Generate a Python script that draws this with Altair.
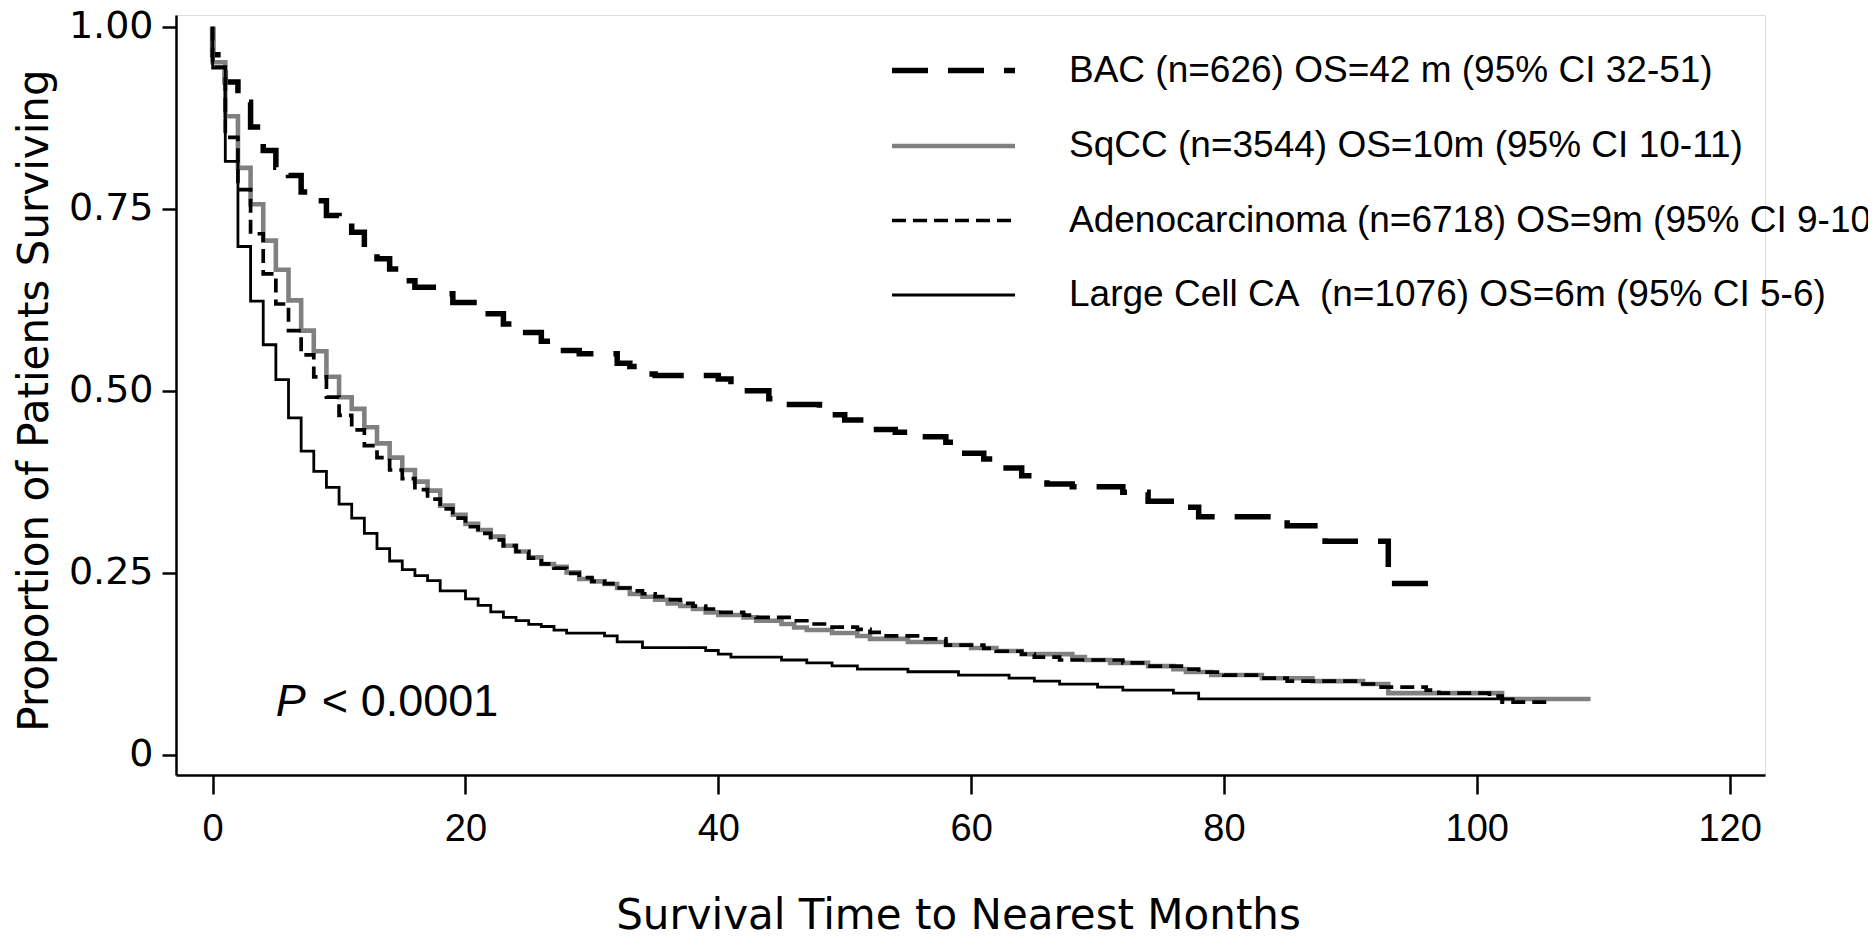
import altair as alt
import pandas as pd

# ---- data (time in months, survival proportion) ----
series_names = [
    "BAC (n=626) OS=42 m (95% CI 32-51)",
    "SqCC (n=3544) OS=10m (95% CI 10-11)",
    "Adenocarcinoma (n=6718) OS=9m (95% CI 9-10)",
    "Large Cell CA\u00a0 (n=1076) OS=6m (95% CI 5-6)",
]

bac_t = [0, 0, 1, 2, 3, 4, 5, 6, 7, 8, 9, 10, 11, 12, 13, 14, 15, 16, 18, 19, 21, 23, 24, 26, 27, 29,
         32, 33, 34, 35, 40, 41, 42, 44, 45, 48, 49, 50, 52, 54, 56, 58, 59, 61, 62, 64, 66, 68, 72,
         74, 77, 78, 85, 88, 93, 97]
bac_s = [1.0, 0.9615, 0.924, 0.896, 0.862, 0.83, 0.807, 0.7956, 0.7727, 0.761, 0.7406, 0.730, 0.7177,
         0.6925, 0.681, 0.667, 0.651, 0.642, 0.633, 0.621, 0.6055, 0.5917, 0.580, 0.5678, 0.555, 0.5505,
         0.5376, 0.533, 0.523, 0.5207, 0.516, 0.5046, 0.500, 0.4887, 0.4808, 0.474, 0.467, 0.4598,
         0.4465, 0.443, 0.4368, 0.429, 0.4139, 0.406, 0.3938, 0.383, 0.3718, 0.368, 0.3603, 0.348,
         0.3397, 0.3269, 0.3145, 0.293, 0.2352, 0.2352]

sqcc_t = [0, 0, 1, 2, 3, 4, 5, 6, 7, 8, 9, 10, 11, 12, 13, 14, 15, 16, 17, 18, 19, 20, 21, 22, 23, 24,
          25, 26, 27, 28, 29, 30, 31, 32, 33, 34, 35, 36, 37, 38, 39, 40, 42, 43, 45, 46, 47, 49, 51,
          52, 55, 58, 60, 62, 64, 68, 69, 71, 74, 76, 77, 79, 83, 87, 91, 93, 102, 109]
sqcc_s = [1.0, 0.951, 0.877, 0.806, 0.756, 0.706, 0.666, 0.624, 0.5825, 0.554, 0.519, 0.491, 0.475,
          0.4496, 0.4276, 0.408, 0.391, 0.375, 0.3626, 0.342, 0.3296, 0.317, 0.3086, 0.2994, 0.287,
          0.279, 0.271, 0.2618, 0.2581, 0.2503, 0.2412, 0.238, 0.2343, 0.2289, 0.2206, 0.2169, 0.2128,
          0.2077, 0.2041, 0.2, 0.1954, 0.1917, 0.1885, 0.1839, 0.1794, 0.1747, 0.1711, 0.167, 0.163,
          0.159, 0.1546, 0.1505, 0.1464, 0.1423, 0.138, 0.134, 0.13, 0.126, 0.1216, 0.1175, 0.1134,
          0.1093, 0.105, 0.101, 0.097, 0.0845, 0.0763, 0.0763]

adeno_t = [0, 0, 1, 2, 3, 4, 5, 6, 7, 8, 9, 10, 11, 12, 13, 14, 15, 16, 17, 18, 19, 20, 21, 22, 23,
           24, 25, 26, 27, 28, 29, 30, 31, 32, 33, 34, 35, 36, 37, 38, 39, 40, 42, 43, 46, 47, 49, 51,
           52, 53, 56, 58, 61, 62, 64, 65, 67, 72, 74, 77, 78, 80, 83, 85, 91, 92, 96, 97, 101, 102, 106]
adeno_s = [1.0, 0.9445, 0.848, 0.776, 0.7155, 0.6605, 0.619, 0.5825, 0.549, 0.519, 0.491, 0.466, 0.446,
           0.4245, 0.408, 0.391, 0.379, 0.364, 0.351, 0.3375, 0.325, 0.313, 0.304, 0.295, 0.287, 0.279,
           0.27, 0.262, 0.256, 0.249, 0.243, 0.238, 0.235, 0.2289, 0.225, 0.221, 0.2169, 0.2128, 0.2077,
           0.204, 0.2, 0.1954, 0.1917, 0.1885, 0.1839, 0.1794, 0.175, 0.172, 0.168, 0.163, 0.159, 0.1505,
           0.146, 0.142, 0.138, 0.134, 0.13, 0.126, 0.1216, 0.1175, 0.1134, 0.1093, 0.105, 0.101, 0.097,
           0.0928, 0.0887, 0.0845, 0.0804, 0.0722, 0.0722]

lc_t = [0, 0, 1, 2, 3, 4, 5, 6, 7, 8, 9, 10, 11, 12, 13, 14, 15, 16, 17, 18, 20, 21, 22, 23, 24, 25,
        26, 27, 28, 31, 32, 34, 39, 40, 41, 45, 47, 49, 51, 55, 59, 63, 65, 67, 70, 72, 76, 78, 103]
lc_s = [1.0, 0.943, 0.815, 0.698, 0.623, 0.563, 0.515, 0.4625, 0.417, 0.389, 0.367, 0.344, 0.325, 0.304,
        0.283, 0.266, 0.254, 0.246, 0.239, 0.225, 0.214, 0.205, 0.196, 0.1885, 0.184, 0.179, 0.176,
        0.171, 0.167, 0.163, 0.155, 0.147, 0.143, 0.138, 0.134, 0.13, 0.126, 0.122, 0.1175, 0.1138,
        0.1093, 0.1052, 0.101, 0.0969, 0.0928, 0.0887, 0.0845, 0.0767, 0.0767]

x_ticks = [0, 20, 40, 60, 80, 100, 120]
y_ticks = [0, 0.25, 0.5, 0.75, 1.0]

p_label = [{"t": 5, "s": 0.053, "p": "P", "rest": "< 0.0001"}]

# ---- build long table ----
rows = []
for name, ts, ss in zip(series_names, [bac_t, sqcc_t, adeno_t, lc_t], [bac_s, sqcc_s, adeno_s, lc_s]):
    for i, (t, s) in enumerate(zip(ts, ss)):
        rows.append({"series": name, "t": t, "s": s, "idx": i})
df = pd.DataFrame(rows)
ann = pd.DataFrame(p_label)

x_scale = alt.Scale(domain=[-2.9, 122.8], nice=False, zero=False)
y_scale = alt.Scale(domain=[-0.028, 1.016], nice=False, zero=False)

x_axis = alt.Axis(
    values=x_ticks, grid=False, title="Survival Time to Nearest Months",
    domainColor="black", domainWidth=2.5, tickColor="black", tickWidth=2.5, tickSize=19,
    labelFont="Liberation Sans", labelFontSize=38, labelColor="black", labelPadding=16,
    labelFlush=False, labelOverlap=False,
    titleFont="DejaVu Sans", titleFontSize=42, titleFontWeight="normal", titleColor="black",
    titleX=782, titleY=153, titleBaseline="alphabetic", titleAlign="center",
)
y_axis = alt.Axis(
    values=y_ticks, grid=False, title="Proportion of Patients Surviving",
    labelExpr="datum.value == 0 ? '0\u00a0\u2009' : format(datum.value, '.2f')",
    domainColor="black", domainWidth=2.5, tickColor="black", tickWidth=2.5, tickSize=14,
    labelFont="DejaVu Sans", labelFontSize=38, labelColor="black", labelPadding=9,
    labelFlush=False, labelOverlap=False,
    titleFont="DejaVu Sans", titleFontSize=42, titleFontWeight="normal", titleColor="black",
    titleAngle=270, titleX=-129, titleY=385, titleBaseline="alphabetic", titleAlign="center",
)

legend = alt.Legend(
    title=None, orient="none", legendX=716, legendY=32, padding=0,
    symbolType="M-3,0H3", symbolSize=1681, symbolOffset=38, labelOffset=92,
    labelFont="Liberation Sans", labelFontSize=37, labelColor="black", labelLimit=2000,
    rowPadding=34,
)

lines = alt.Chart(df).mark_line(interpolate="step-after", strokeCap="butt", strokeJoin="miter").encode(
    x=alt.X("t:Q", scale=x_scale, axis=x_axis),
    y=alt.Y("s:Q", scale=y_scale, axis=y_axis),
    color=alt.Color("series:N", scale=alt.Scale(domain=series_names,
                                                range=["black", "#808080", "black", "black"]),
                    legend=legend),
    strokeDash=alt.StrokeDash("series:N", scale=alt.Scale(domain=series_names,
                                                          range=[[36, 20], [1, 0], [14, 7], [1, 0]]),
                              legend=legend),
    strokeWidth=alt.StrokeWidth("series:N", scale=alt.Scale(domain=series_names,
                                                            range=[5.5, 2.8, 2.8, 2.8]),
                                legend=legend),
    order=alt.Order("idx:Q"),
)

p_text = alt.Chart(ann).mark_text(
    font="Liberation Sans", fontSize=45, fontStyle="italic", align="left", baseline="alphabetic",
    color="black"
).encode(x=alt.X("t:Q", scale=x_scale), y=alt.Y("s:Q", scale=y_scale), text="p:N")

rest_text = alt.Chart(ann).mark_text(
    font="Liberation Sans", fontSize=45, align="left", baseline="alphabetic", color="black", dx=46
).encode(x=alt.X("t:Q", scale=x_scale), y=alt.Y("s:Q", scale=y_scale), text="rest:N")

chart = alt.layer(lines, p_text, rest_text).properties(
    width=1589, height=760,
    autosize=alt.AutoSizeParams(type="none"),
    padding={"left": 168, "top": 7, "right": 103, "bottom": 166},
).configure_view(stroke=None).configure(background="white")

chart.save("out.html", embed_options={"renderer": "svg", "actions": False})
